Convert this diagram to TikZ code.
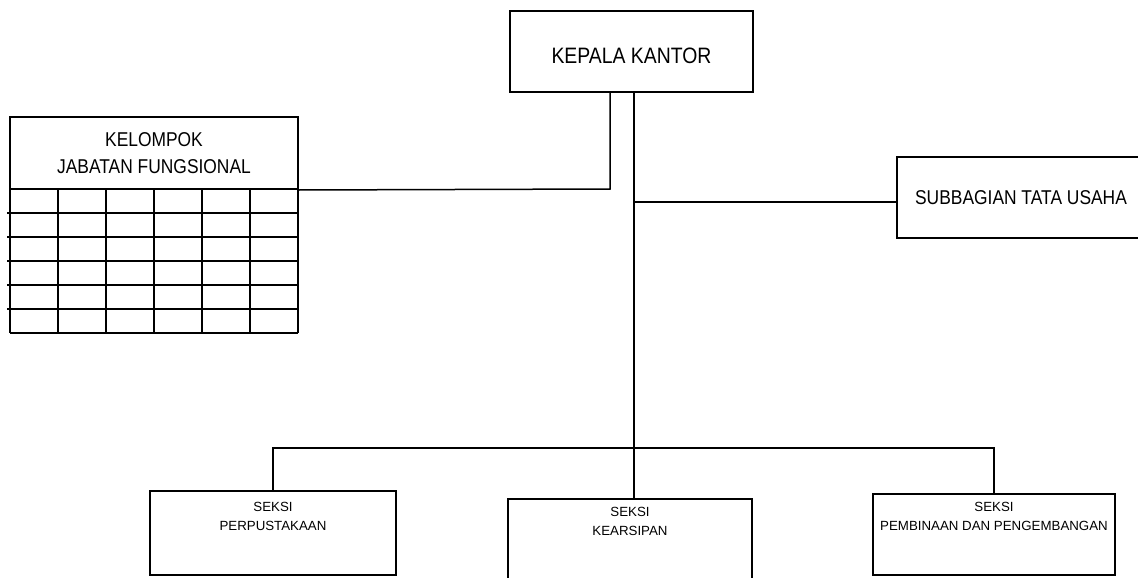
\documentclass[tikz,border=0pt]{standalone}
\usepackage{fontspec}
\setmainfont{Liberation Sans}
\newfontfamily\narrowfont[FakeStretch=0.87]{Liberation Sans}
\usetikzlibrary{positioning}
\tikzset{
  orgbox/.style={draw=black,line width=2pt,inner sep=0pt,align=center},
  headbox/.style={orgbox,font=\fontsize{22.3}{27}\narrowfont},
  unitbox/.style={orgbox,font=\fontsize{20}{27}\narrowfont},
  seksibox/.style={orgbox},
  seksilabel/.style={inner sep=0pt,align=center,font=\fontsize{13.3}{19}\selectfont},
  link/.style={draw=black,line width=1.5pt},
  gridline/.style={draw=black,line width=2pt}
}

\begin{document}
\begin{tikzpicture}[x=1pt,y=-1pt]
\useasboundingbox (0,0) rectangle (1138,578);
% top level
\node[headbox,minimum width=243pt,minimum height=81pt,text height=25pt] (kepala) at (631.5,51.5) {KEPALA KANTOR};
\node[unitbox,minimum width=288pt,minimum height=72pt] (header) at (154,153) {KELOMPOK\\JABATAN FUNGSIONAL};
\node[unitbox,minimum width=248pt,minimum height=81pt] (subbag) at (1021,197.5) {SUBBAGIAN TATA USAHA};
% table of the functional group
\foreach \y in {213,237,261,285,309}
  \draw[gridline] (7,\y) -- (298,\y);
\draw[gridline] (10,333) -- (298,333);
\foreach \x in {10,58,106,154,202,250,298}
  \draw[gridline] (\x,189) -- (\x,333);
% sections
\node[seksibox,minimum width=246pt,minimum height=84pt] (perpus) at (273,533) {};
\node[seksibox,minimum width=244pt,minimum height=92pt] (arsip) at (630,545) {};
\node[seksibox,minimum width=242pt,minimum height=81pt] (binbang) at (994,534.5) {};
\node[seksilabel,below=12pt of perpus.north] (perpuslbl) {SEKSI\\PERPUSTAKAAN};
\node[seksilabel,below=9pt of arsip.north] (arsiplbl) {SEKSI\\KEARSIPAN};
\node[seksilabel,below=9pt of binbang.north] (binbanglbl) {SEKSI\\PEMBINAAN DAN PENGEMBANGAN};
% connectors
\coordinate (kelbow) at (610,189);
\coordinate (trunk) at (634,448);
\coordinate (subjoin) at ([yshift=-4.5pt]subbag.west);
\draw[link] (kepala.south -| kelbow) -- (kelbow) -- (header.south east);
\draw[link] (kepala.south -| trunk) -- (trunk);
\draw[link] (subjoin) -- (subjoin -| trunk);
\draw[link] (perpus.north) |- (trunk) -| (binbang.north);
\draw[link] (trunk) -- (trunk |- arsip.north);
\end{tikzpicture}
\end{document}
